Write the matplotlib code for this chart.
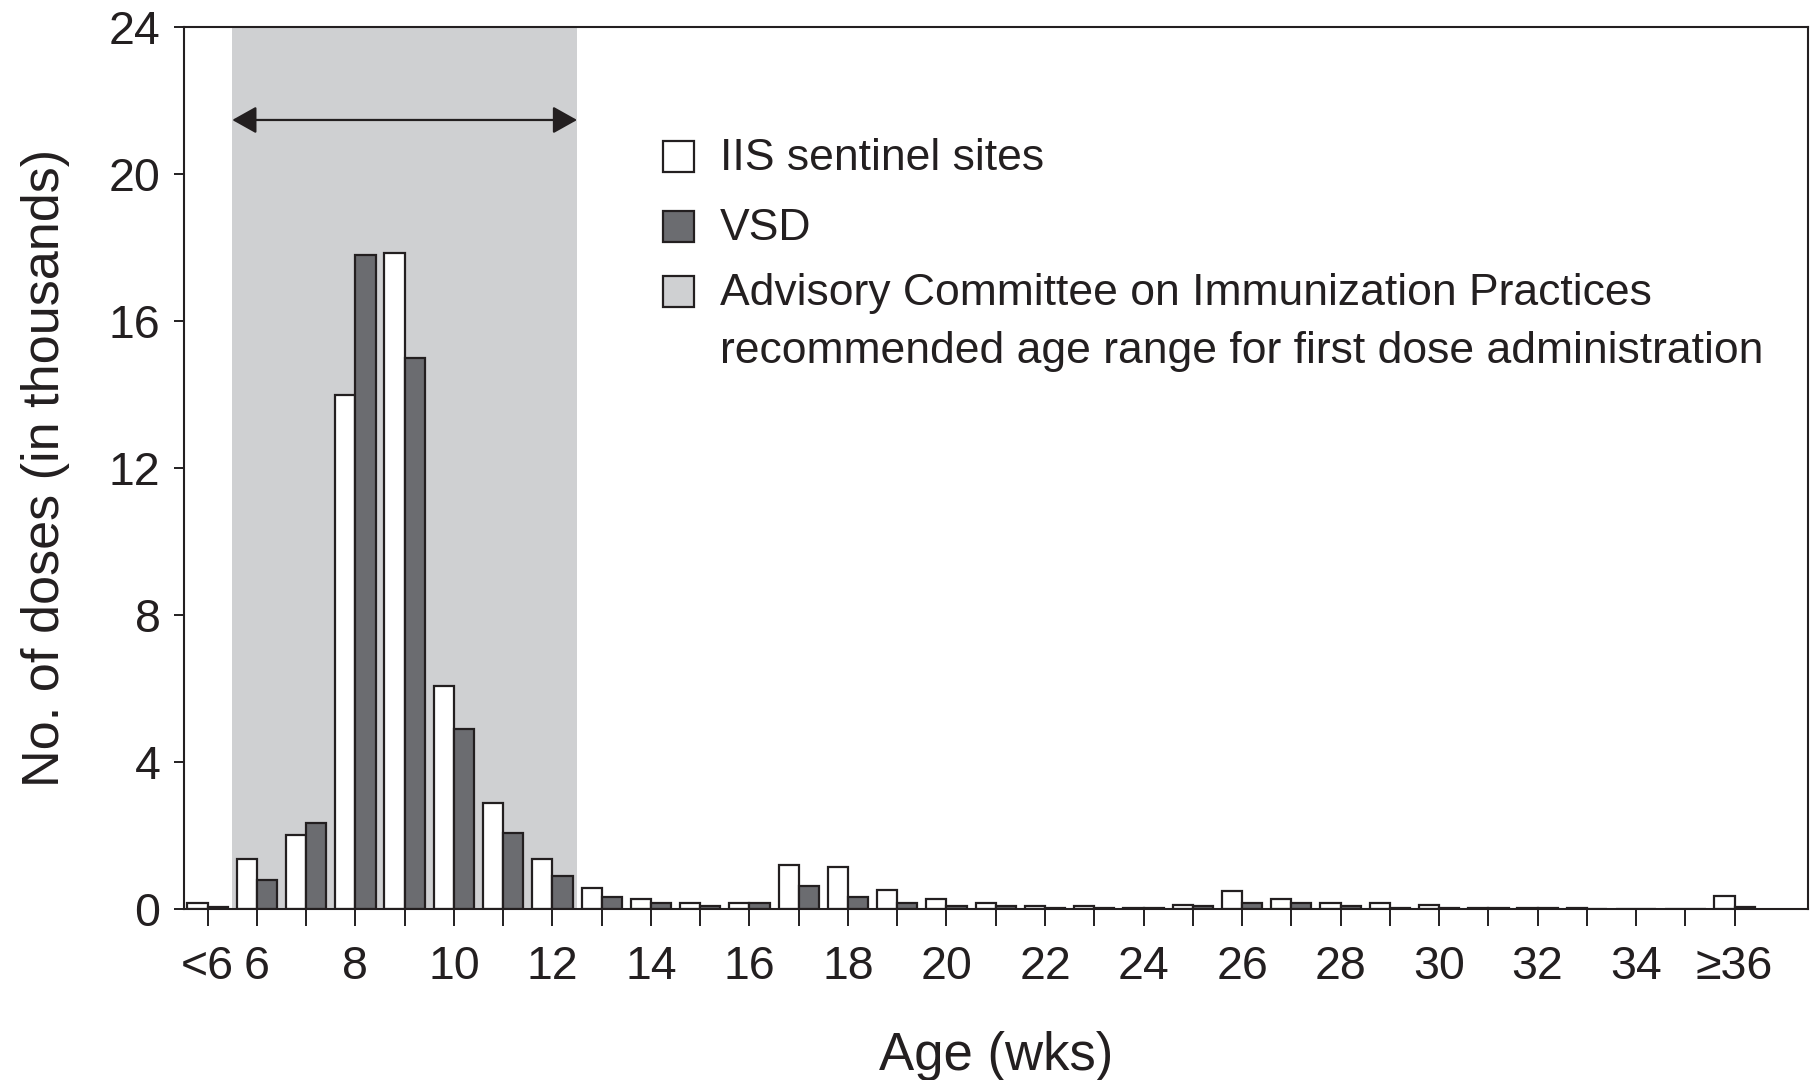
import matplotlib
matplotlib.use("Agg")
import matplotlib.pyplot as plt
from matplotlib.patches import Rectangle
import numpy as np

# ---- data (thousands of doses) ----
categories = ['<6'] + [str(a) for a in range(6, 36)] + ['≥36']
iis_sentinel = [0.16, 1.36, 2.01, 14.0, 17.85, 6.08, 2.88, 1.36, 0.56, 0.27,
                0.16, 0.16, 1.20, 1.13, 0.51, 0.27, 0.16, 0.09, 0.09, 0.04,
                0.10, 0.50, 0.27, 0.16, 0.16, 0.10, 0.04, 0.04, 0.04, 0.0,
                0.0, 0.35]
vsd = [0.05, 0.79, 2.35, 17.8, 15.0, 4.9, 2.07, 0.90, 0.32, 0.16,
       0.09, 0.16, 0.62, 0.33, 0.16, 0.09, 0.09, 0.04, 0.04, 0.04,
       0.09, 0.16, 0.16, 0.09, 0.04, 0.04, 0.04, 0.04, 0.0, 0.0,
       0.0, 0.05]
shown_ticks = ['<6', '6', '8', '10', '12', '14', '16', '18', '20', '22', '24',
               '26', '28', '30', '32', '34', '≥36']
acip_range = ('6', '12')
legend_labels = ['IIS sentinel sites', 'VSD',
                 'Advisory Committee on Immunization Practices',
                 'recommended age range for first dose administration']

# ---- style ----
plt.rcParams['font.family'] = ['Liberation Sans', 'DejaVu Sans']
INK = '#231f20'
DARK = '#6b6c70'
SPAN = '#cfd0d2'

fig = plt.figure(figsize=(18.2, 10.8), dpi=100)
ax = fig.add_axes([184/1820, 1-909/1080, (1808-184)/1820, (909-27)/1080])

x = np.arange(len(categories))
w = 0.41

i0 = categories.index(acip_range[0])
i1 = categories.index(acip_range[1])
ax.axvspan(i0 - 0.5, i1 + 0.5, color=SPAN, zorder=0, lw=0)

ax.bar(x, iis_sentinel, width=-w, align='edge', color='white',
       edgecolor=INK, linewidth=1.6, zorder=2)
ax.bar(x, vsd, width=w, align='edge', color=DARK,
       edgecolor=INK, linewidth=1.6, zorder=2)

ax.annotate('', xy=(i1 + 0.5, 21.47), xytext=(i0 - 0.5, 21.47),
            arrowprops=dict(arrowstyle='<|-|>,head_length=0.75,head_width=0.42',
                            mutation_scale=20, color=INK, lw=1.6,
                            shrinkA=0, shrinkB=0), zorder=3)

ax.set_xlim(-0.48, 32.49)
ax.set_ylim(0, 24)
ax.set_yticks([0, 4, 8, 12, 16, 20, 24])
ax.set_xticks(x)
ax.set_xticklabels([c if c in shown_ticks else '' for c in categories])

for s in ax.spines.values():
    s.set_linewidth(1.5)
    s.set_color(INK)

ax.tick_params(axis='x', direction='out', length=12, width=1.4, pad=14,
               labelsize=33.5, colors=INK)
ax.tick_params(axis='y', direction='out', length=7, width=1.4, pad=10,
               labelsize=33.5, colors=INK)

ax.set_xlabel('Age (wks)', fontsize=38, color=INK, labelpad=30)
ax.set_ylabel('No. of doses (in thousands)', fontsize=37.5, color=INK,
              labelpad=28)

# ---- legend (drawn in axes fraction) ----
def axx(px):
    return (px - 184) / 1624

def axy(py):
    return (909 - py) / 882

sq = 31
swatches = [(156, 'white'), (226, DARK), (291, SPAN)]
for cy, fc in swatches:
    ax.add_patch(Rectangle((axx(663), axy(cy + sq/2)), sq/1624, sq/882,
                           transform=ax.transAxes, facecolor=fc,
                           edgecolor=INK, linewidth=1.6, zorder=4))

text_y = [158, 228, 293, 352]
for ty, lab in zip(text_y, legend_labels):
    ax.text(axx(720), axy(ty), lab, transform=ax.transAxes,
            fontsize=32, color=INK, va='center', ha='left', zorder=4)

fig.savefig('out.png', dpi=100)
